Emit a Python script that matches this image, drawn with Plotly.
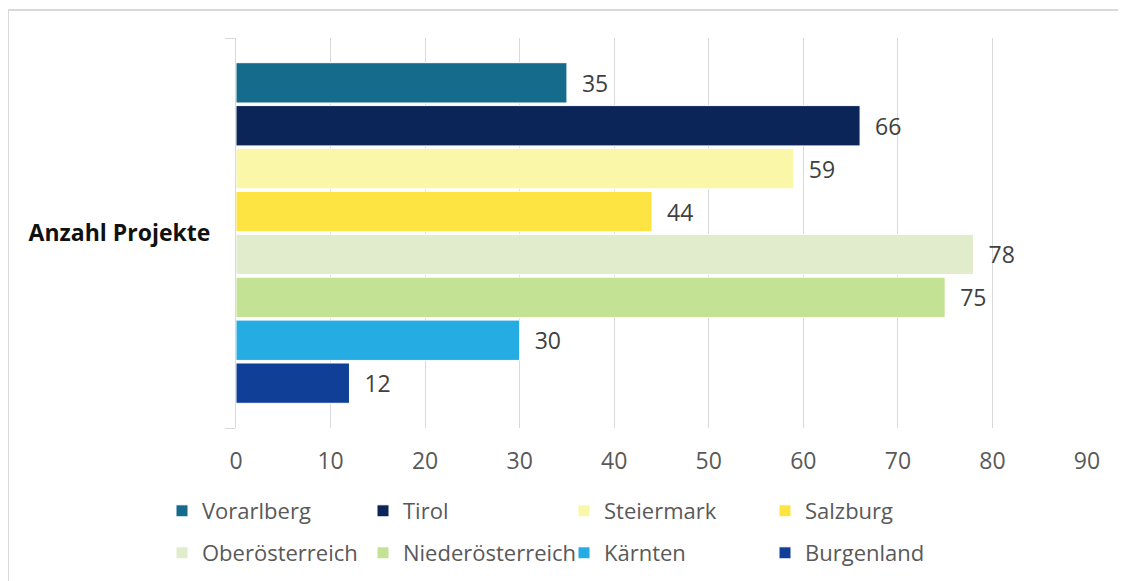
import plotly.graph_objects as go

category = ["Anzahl Projekte"]
regions = ["Vorarlberg", "Tirol", "Steiermark", "Salzburg",
           "Oberösterreich", "Niederösterreich", "Kärnten", "Burgenland"]
projects = [35, 66, 59, 44, 78, 75, 30, 12]
colors = ["#146B8C", "#0B2558", "#FBF7A8", "#FDE442",
          "#E1ECCD", "#C3E294", "#24ACE3", "#0F3F97"]
x_ticks = [0, 10, 20, 30, 40, 50, 60, 70, 80, 90]

# page body adds an 8px margin, so work in figure pixels = screen - 8
W, H = 1118, 573
ml, mr, mt, mb = 228, 39, 30, 153
pw, ph = W - ml - mr, H - mt - mb


def px_x(x):
    return (x - ml) / pw


def px_y(y):
    return (H - mb - y) / ph


fig = go.Figure()

for i, (name, val, col) in enumerate(zip(regions, projects, colors)):
    fig.add_trace(go.Bar(
        y=category, x=[val], name=name, orientation="h",
        marker=dict(color=col, line=dict(color="white", width=1)),
        text=[val], texttemplate="\u00a0\u00a0%{x}",
        textposition="outside", cliponaxis=False,
        textfont=dict(size=23, color="#404040", family="Open Sans"),
        legend="legend" if i < 4 else "legend2",
    ))

leg_common = dict(
    orientation="h", xanchor="left", yanchor="middle",
    entrywidth=156, entrywidthmode="pixels",
    font=dict(size=22, color="#595959"),
    traceorder="normal", bgcolor="rgba(0,0,0,0)",
)

fig.update_layout(
    width=W, height=H,
    barmode="group", bargap=0.12, bargroupgap=0.06,
    plot_bgcolor="white", paper_bgcolor="white",
    margin=dict(l=ml, r=mr, t=mt, b=mb, autoexpand=False),
    font=dict(family="Open Sans", color="#595959"),
    showlegend=True,
    legend=dict(x=px_x(154), y=px_y(503), **leg_common),
    legend2=dict(x=px_x(154), y=px_y(545), **leg_common),
    xaxis=dict(
        range=[0, 90], tickvals=x_ticks, showgrid=True,
        gridcolor="#D9D9D9", gridwidth=1, zeroline=False,
        showline=False, ticks="", ticklabelstandoff=17,
        tickfont=dict(size=23, color="#595959"), automargin=False,
    ),
    yaxis=dict(
        autorange="reversed", showline=True, linecolor="#D9D9D9",
        ticks="outside", tickson="boundaries", ticklen=10,
        tickcolor="#D9D9D9", ticklabelstandoff=20, automargin=False,
        tickfont=dict(size=23, color="#111111", family="Open Sans"),
    ),
    shapes=[dict(
        type="rect", xref="paper", yref="paper",
        x0=px_x(0), x1=px_x(1113),
        y0=px_y(600), y1=px_y(2),
        line=dict(color="#D9D9D9", width=2), layer="below",
    )],
)

fig.update_yaxes(tickprefix="<b>", ticksuffix="</b>")

fig.write_html("out.html")
